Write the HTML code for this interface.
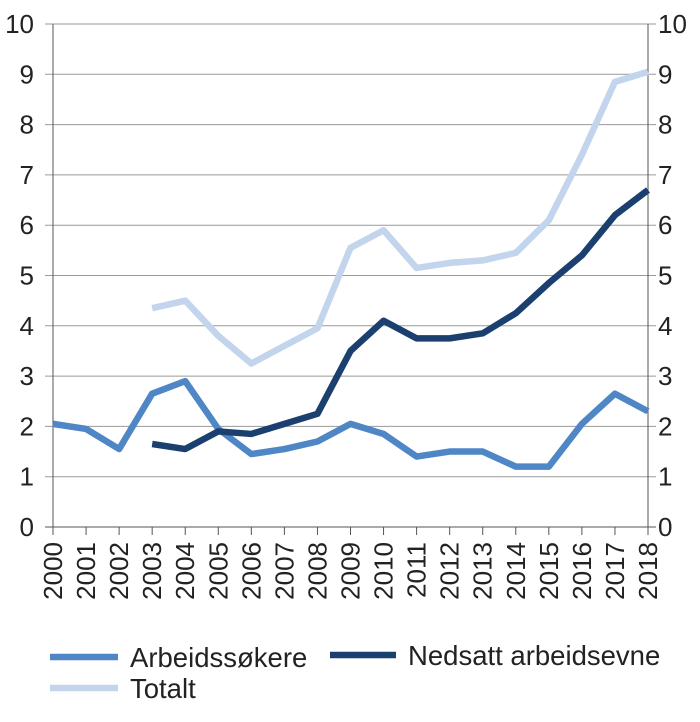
<!DOCTYPE html>
<html><head><meta charset="utf-8"><style>
body{margin:0;background:#fff;font-family:"Liberation Sans",sans-serif}
svg text{font-family:"Liberation Sans",sans-serif;fill:#222}
</style></head><body>
<svg id="chart" width="700" height="717" viewBox="0 0 700 717" xmlns="http://www.w3.org/2000/svg">
<g id="grid"></g>
<g id="axes"></g>
<g id="series"></g>
<g>
 <line x1="50" y1="657" x2="118" y2="657" stroke="#4f86c6" stroke-width="6.5"/>
 <text x="130" y="667" font-size="27.5">Arbeidssøkere</text>
 <line x1="330" y1="655" x2="396" y2="655" stroke="#1b3f6f" stroke-width="6.5"/>
 <text x="408" y="665" font-size="27.5">Nedsatt arbeidsevne</text>
 <line x1="50" y1="688" x2="118" y2="688" stroke="#c3d5ed" stroke-width="6.5"/>
 <text x="130" y="698" font-size="27.5">Totalt</text>
</g>
</svg>
<script>
const years=[2000,2001,2002,2003,2004,2005,2006,2007,2008,2009,2010,2011,2012,2013,2014,2015,2016,2017,2018];
const yTicks=[0,1,2,3,4,5,6,7,8,9,10];
const arbeidssokere=[2.05,1.95,1.55,2.65,2.9,1.95,1.45,1.55,1.7,2.05,1.85,1.4,1.5,1.5,1.2,1.2,2.05,2.65,2.3];
const nedsatt=[null,null,null,1.65,1.55,1.9,1.85,2.05,2.25,3.5,4.1,3.75,3.75,3.85,4.25,4.85,5.4,6.2,6.7];
const totalt=[null,null,null,4.35,4.5,3.8,3.25,3.6,3.95,5.55,5.9,5.15,5.25,5.3,5.45,6.1,7.4,8.85,9.05];
const L=53,R=648,T=24,B=527;
const x=i=>L+(R-L)*i/(years.length-1);
const y=v=>B-(B-T)*v/10;
const NS="http://www.w3.org/2000/svg";
function mk(tag,attrs,parent){const e=document.createElementNS(NS,tag);for(const k in attrs)e.setAttribute(k,attrs[k]);parent.appendChild(e);return e;}
const grid=document.getElementById('grid'),axes=document.getElementById('axes'),series=document.getElementById('series');
yTicks.forEach(t=>{
 const g=mk('line',{x1:L-8,x2:R+8,y1:y(t),y2:y(t),stroke:t===0?'#555':'#9a9a9a','stroke-width':1},grid);
 
 
 const a=mk('text',{x:34,y:y(t)+9,'font-size':26,'text-anchor':'end'},axes);a.textContent=t;
 
 
 const b=mk('text',{x:658,y:y(t)+9,'font-size':26},axes);b.textContent=t;
 
 
});
[L,R].forEach((xx,i)=>{const l=mk('line',{x1:xx,x2:xx,y1:T,y2:B,stroke:'#555','stroke-width':1},axes);
 
 });
years.forEach((yr,i)=>{
 const tk=mk('line',{x1:x(i),x2:x(i),y1:B,y2:B+8,stroke:'#555'},axes);
 
 
 const t=mk('text',{x:0,y:0,'font-size':26,'text-anchor':'end',transform:`translate(${x(i)+9},542) rotate(-90)`},axes);t.textContent=yr;
 
 
});
function draw(data,color,name){
 let d='';data.forEach((v,i)=>{if(v==null)return;d+=(d?'L':'M')+x(i)+' '+y(v)+' ';});
 const p=mk('path',{d:d,fill:'none',stroke:color,'stroke-width':6.5,'stroke-linejoin':'round'},series);
 
 
}
draw(totalt,'#c3d5ed','line-totalt');
draw(arbeidssokere,'#4f86c6','line-arbeidssokere');
draw(nedsatt,'#1b3f6f','line-nedsatt-arbeidsevne');
</script>
</body></html>
